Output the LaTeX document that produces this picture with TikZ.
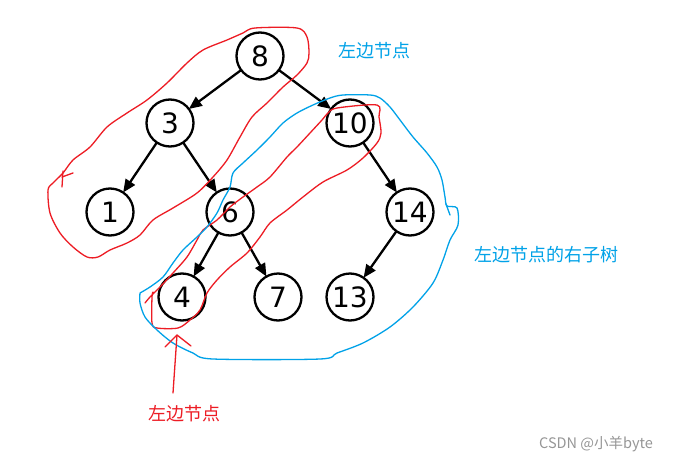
\documentclass[tikz,border=0pt]{standalone}
\usepackage{fontspec}
\setmainfont{DejaVu Sans}
\newfontfamily\cjk{Noto Sans CJK SC}
\usetikzlibrary{arrows.meta}
\definecolor{pred}{RGB}{237,28,36}
\definecolor{pblue}{RGB}{0,162,232}
\definecolor{wmgray}{RGB}{150,150,150}
\begin{document}
\begin{tikzpicture}[x=1pt,y=-1pt,
  tnode/.style={circle,draw,line width=2.3pt,minimum size=47pt,inner sep=0pt,outer sep=0pt,font=\fontsize{28}{28}\selectfont},
  edge/.style={line width=2.3pt,-{Triangle[length=13pt,width=11pt]}},
  hand/.style={line width=1.3pt,line join=round,line cap=round},
  redhand/.style={hand,draw=pred},
  bluehand/.style={hand,draw=pblue},
  bluelabel/.style={text=pblue,font=\cjk\fontsize{18}{18}\selectfont,inner sep=0pt},
  redlabel/.style={text=pred,font=\cjk\fontsize{18}{18}\selectfont,inner sep=0pt},
  wmlabel/.style={text=wmgray,font=\cjk\fontsize{14.5}{14.5}\selectfont,inner sep=0pt}]
\useasboundingbox (0,0) rectangle (674,463);
\fill[white] (0,0) rectangle (674,463);

% tree nodes
\node[tnode] (n8) at (260,56) {8};
\node[tnode] (n3) at (170,123) {3};
\node[tnode] (n10) at (350,123) {10};
\node[tnode] (n1) at (110,212) {1};
\node[tnode] (n6) at (230,212) {6};
\node[tnode] (n14) at (410,212) {14};
\node[tnode] (n4) at (182,297) {4};
\node[tnode] (n7) at (278,297) {7};
\node[tnode] (n13) at (350,297) {13};

% edges
\draw[edge] (n8) -- (n3);
\draw[edge] (n8) -- (n10);
\draw[edge] (n3) -- (n1);
\draw[edge] (n3) -- (n6);
\draw[edge] (n10) -- (n14);
\draw[edge] (n6) -- (n4);
\draw[edge] (n6) -- (n7);
\draw[edge] (n14) -- (n13);

% red loop 1
\draw[redhand] plot[smooth cycle,tension=0.5] coordinates {
 (255,28) (297,28) (307,37) (309,53) (307,63) (297,75) (283,87) (267,103)
 (252,117) (240,137) (227,160) (213,177) (197,193) (173,208) (153,220)
 (140,235) (127,243) (110,250) (98,257) (87,257) (73,247) (60,233)
 (50,213) (48,190) (53,183) (63,173) (73,160) (90,147) (107,127)
 (127,113) (147,100) (167,83) (187,63) (203,50) (227,40) (243,33)};
% small cross mark
\draw[redhand] (62,177) -- (73,173);
\draw[redhand] (63,171) -- (62,187);

% red loop 2
\draw[redhand] plot[smooth,tension=0.5] coordinates {
 (145,303) (150,297) (160,287) (173,273) (187,257) (197,240) (203,230)
 (217,220) (230,207) (243,197) (257,187) (270,177) (287,157) (297,147)
 (310,133) (322,120) (328,113) (337,108) (377,105) (379,117) (381,133)
 (377,143) (363,158) (347,170) (323,182) (303,197) (287,210) (270,223)
 (260,237) (247,253) (230,267) (217,280) (207,293) (200,310) (190,320)
 (178,328) (157,328) (152,323) (152,297) (153,292)};

% blue loop
\draw[bluehand] plot[smooth,tension=0.5] coordinates {
 (140,293) (150,287) (163,277) (173,263) (183,250) (197,237) (207,227)
 (217,213) (223,200) (230,187) (233,173) (243,163) (257,150) (270,137)
 (283,123) (297,113) (313,105) (330,98) (343,95) (370,95) (380,98)
 (390,107) (400,120) (413,137) (427,153) (437,167) (442,180) (445,197)
 (447,206) (457,208) (458,225) (450,240) (443,260) (433,283) (413,307)
 (390,327) (363,343) (337,353) (320,359) (213,359) (193,353) (173,343)
 (157,330) (145,317) (140,303) (140,293)};
\draw[bluehand] (446,204) -- (450,215);

% labels
\node[bluelabel] (lbl1) at (374,51) {左边节点};
\node[bluelabel] (lbl2) at (546,255) {左边节点的右子树};
\node[redlabel] (lbl3) at (184,414) {左边节点};
\node[wmlabel] (wm) at (596,444) {CSDN @小羊byte};

% red hand arrow
\coordinate (ra0) at (173,393);
\coordinate (ra1) at (177,335);
\coordinate (rb1) at (165,347);
\coordinate (rb2) at (191,346);
\draw[redhand] (ra0) -- (ra1);
\draw[redhand] (rb1) -- (ra1) -- (rb2);
\end{tikzpicture}
\end{document}
